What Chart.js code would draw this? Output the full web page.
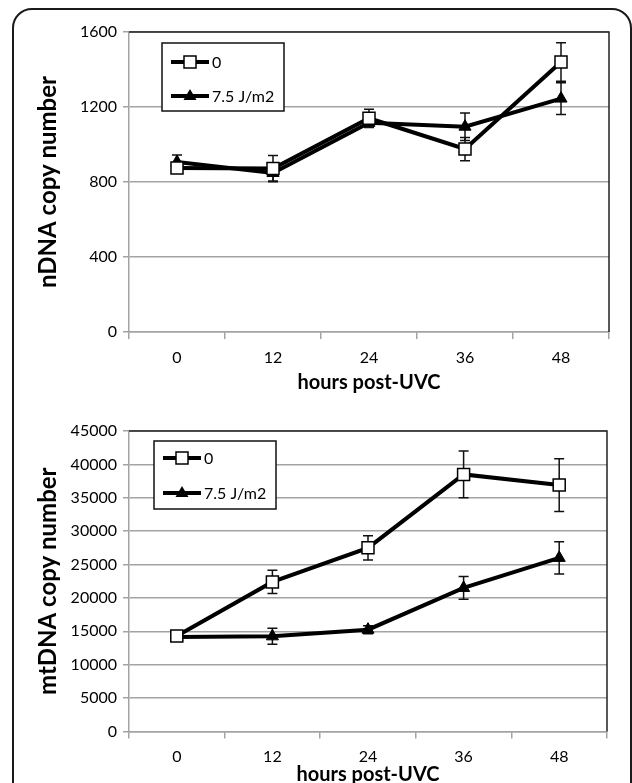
<!DOCTYPE html>
<html>
<head>
<meta charset="utf-8">
<script src="https://cdn.jsdelivr.net/npm/chart.js@4.4.0/dist/chart.umd.min.js"></script>
<style>
  html, body { margin: 0; padding: 0; background: #fff; overflow: hidden; }
  body { width: 632px; height: 783px; position: relative; }
  #frame {
    position: absolute; left: 12px; top: 8px; width: 616px; height: 820px;
    border: 2px solid #1a1a1a; border-radius: 20px;
  }
  #chartN { position: absolute; left: 0; top: 0; }
  #chartM { position: absolute; left: 0; top: 395px; }
</style>
</head>
<body>
<div id="frame"></div>
<canvas id="chartN" width="632" height="395"></canvas>
<canvas id="chartM" width="632" height="392"></canvas>
<script>
const hours = ["0", "12", "24", "36", "48"];
const seriesNames = ["0", "7.5 J/m2"];

// nDNA copy number
const ndnaCtrl = [875, 872, 1140, 976, 1440];
const ndnaCtrlErr = [20, 70, 48, 62, 103];
const ndnaUv = [907, 848, 1116, 1095, 1245];
const ndnaUvErr = [37, 43, 25, 73, 85];
const ndnaTicks = [0, 400, 800, 1200, 1600];

// mtDNA copy number
const mtdnaCtrl = [14300, 22400, 27500, 38500, 36900];
const mtdnaCtrlErr = [500, 1750, 1800, 3500, 3950];
const mtdnaUv = [14150, 14250, 15250, 21500, 26000];
const mtdnaUvErr = [400, 1200, 600, 1700, 2400];
const mtdnaTicks = [0, 5000, 10000, 15000, 20000, 25000, 30000, 35000, 40000, 45000];

const GRID = "#a3a3a3";
const INK = "#000";

// error bars drawn under the lines/markers
const errorBars = {
  id: "errorBars",
  beforeDatasetsDraw(chart) {
    const ctx = chart.ctx;
    const y = chart.scales.y;
    ctx.save();
    ctx.strokeStyle = "#111";
    ctx.lineWidth = 1.5;
    chart.data.datasets.forEach((ds, i) => {
      const meta = chart.getDatasetMeta(i);
      meta.data.forEach((pt, j) => {
        const e = ds.err[j];
        const top = y.getPixelForValue(ds.data[j] + e);
        const bot = y.getPixelForValue(ds.data[j] - e);
        ctx.beginPath();
        ctx.moveTo(pt.x, top); ctx.lineTo(pt.x, bot);
        ctx.moveTo(pt.x - 5, top); ctx.lineTo(pt.x + 5, top);
        ctx.moveTo(pt.x - 5, bot); ctx.lineTo(pt.x + 5, bot);
        ctx.stroke();
      });
    });
    ctx.restore();
  }
};

// dark top / right edge of the plot area + boxed legend inside
const frameAndLegend = {
  id: "frameAndLegend",
  afterDraw(chart, args, opts) {
    const ctx = chart.ctx;
    const a = chart.chartArea;
    ctx.save();
    ctx.strokeStyle = "#222";
    ctx.lineWidth = 1.5;
    ctx.beginPath();
    ctx.moveTo(a.left, a.top); ctx.lineTo(a.right, a.top); ctx.lineTo(a.right, a.bottom);
    ctx.stroke();

    const bx = a.left + opts.dx, by = a.top + opts.dy;
    ctx.fillStyle = "#fff";
    ctx.fillRect(bx, by, 122, 68);
    ctx.strokeStyle = "#111";
    ctx.strokeRect(bx, by, 122, 68);

    const rows = [by + opts.row1, by + opts.row2];
    chart.data.datasets.forEach((ds, i) => {
      const ly = rows[i];
      ctx.strokeStyle = "#000";
      ctx.lineWidth = 4;
      ctx.beginPath();
      ctx.moveTo(bx + 9, ly); ctx.lineTo(bx + 47, ly);
      ctx.stroke();
      const mx = bx + 28;
      ctx.lineWidth = 1.5;
      if (ds.pointStyle === "rect") {
        ctx.fillStyle = "#fff";
        ctx.fillRect(mx - 6, ly - 6, 12, 12);
        ctx.strokeRect(mx - 6, ly - 6, 12, 12);
      } else {
        ctx.fillStyle = "#000";
        ctx.beginPath();
        ctx.moveTo(mx, ly - 7); ctx.lineTo(mx + 6.5, ly + 4); ctx.lineTo(mx - 6.5, ly + 4);
        ctx.closePath();
        ctx.fill();
      }
      ctx.fillStyle = INK;
      ctx.font = "16px Lato";
      ctx.textBaseline = "middle";
      ctx.textAlign = "left";
      ctx.fillText(ds.label, bx + 50, ly + 1);
    });
    ctx.restore();
  }
};

function makeChart(id, ctrl, ctrlErr, uv, uvErr, ticks, yTitle, geo) {
  const maxV = ticks[ticks.length - 1];
  const step = ticks[1] - ticks[0];
  return new Chart(document.getElementById(id), {
    type: "line",
    data: {
      labels: hours,
      datasets: [
        {
          label: seriesNames[0], data: ctrl, err: ctrlErr,
          borderColor: "#000", borderWidth: 4,
          pointStyle: "rect", pointRadius: 8.5, pointBackgroundColor: "#fff",
          pointBorderColor: "#000", pointBorderWidth: 1.5
        },
        {
          label: seriesNames[1], data: uv, err: uvErr,
          borderColor: "#000", borderWidth: 4,
          pointStyle: "triangle", pointRadius: 7, pointBackgroundColor: "#000",
          pointBorderColor: "#000", pointBorderWidth: 1
        }
      ]
    },
    options: {
      responsive: false,
      animation: false,
      events: [],
      layout: { padding: { left: 0, top: geo.top, right: geo.right, bottom: 0 } },
      plugins: {
        legend: { display: false },
        tooltip: { enabled: false },
        frameAndLegend: geo.legend
      },
      scales: {
        x: {
          type: "category",
          offset: true,
          grid: { offset: true, drawOnChartArea: false, color: GRID, lineWidth: 1.5, tickLength: 7 },
          border: { color: GRID, width: 1.5 },
          ticks: { color: INK, font: { family: "Lato", size: 16 }, padding: geo.xPad },
          title: {
            display: true, text: "hours post-UVC", color: INK,
            font: { family: "Lato", size: 20, weight: "bold" }, padding: { top: 0, bottom: 0 }
          },
          afterFit(s) { s.height = geo.xHeight; }
        },
        y: {
          min: 0, max: maxV,
          ticks: {
            stepSize: step, color: INK, font: { family: "Lato", size: 16 }, padding: 6,
            callback: v => String(v)
          },
          grid: { color: GRID, lineWidth: 1.5, tickLength: 6 },
          border: { color: GRID, width: 1.5 },
          title: {
            display: true, text: yTitle, color: INK,
            font: { family: "Lato", size: 24, weight: "bold" }, padding: { top: 34, bottom: 0 }
          },
          afterFit(s) { s.width = 129; }
        }
      }
    },
    plugins: [errorBars, frameAndLegend]
  });
}

makeChart("chartN", ndnaCtrl, ndnaCtrlErr, ndnaUv, ndnaUvErr, ndnaTicks, "nDNA copy number", {
  top: 32, right: 23, xHeight: 63, xPad: 9,
  legend: { dx: 33, dy: 11, row1: 19, row2: 53 }
});
makeChart("chartM", mtdnaCtrl, mtdnaCtrlErr, mtdnaUv, mtdnaUvErr, mtdnaTicks, "mtDNA copy number", {
  top: 36, right: 25, xHeight: 55.5, xPad: 9,
  legend: { dx: 25, dy: 10, row1: 17, row2: 52 }
});
</script>
</body>
</html>
